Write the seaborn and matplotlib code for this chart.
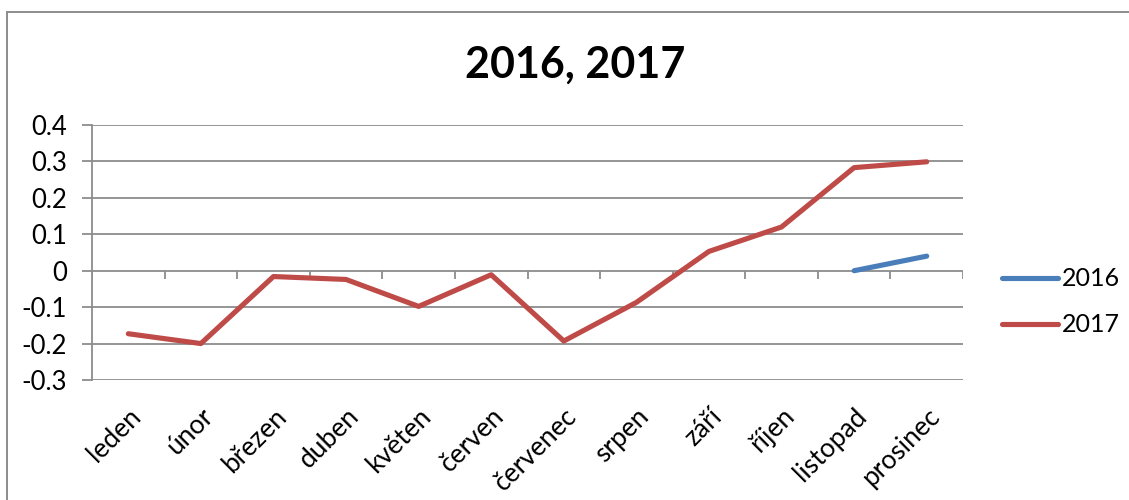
import numpy as np
import pandas as pd
import matplotlib
matplotlib.use("Agg")
import matplotlib.pyplot as plt
import seaborn as sns
from matplotlib.patches import Rectangle

months = ["leden", "únor", "březen", "duben", "květen", "červen",
          "červenec", "srpen", "září", "říjen", "listopad", "prosinec"]
values_2016 = [np.nan] * 10 + [0.0, 0.04]
values_2017 = [-0.173, -0.2, -0.016, -0.024, -0.098, -0.011,
               -0.193, -0.087, 0.053, 0.12, 0.283, 0.299]
series_names = ["2016", "2017"]
yticks = [-0.3, -0.2, -0.1, 0, 0.1, 0.2, 0.3, 0.4]
ytick_labels = ["-0.3", "-0.2", "-0.1", "0", "0.1", "0.2", "0.3", "0.4"]
title = "2016, 2017"

sns.set_theme(style="white")
plt.rcParams["font.family"] = ["Lato", "DejaVu Sans"]
plt.rcParams["text.color"] = "black"

idx = np.arange(len(months))
df = pd.DataFrame({
    "month": np.concatenate([idx, idx]),
    "value": values_2016 + values_2017,
    "year": [series_names[0]] * len(months) + [series_names[1]] * len(months),
}).dropna()

fig = plt.figure(figsize=(11.29, 5.0), dpi=100)
ax = fig.add_axes([92 / 1129, 1 - 380 / 500, (963 - 92) / 1129, (380 - 125) / 500])

grid_color = "#8c8c8c"
for y in yticks:
    ax.axhline(y, color=grid_color, lw=1.3, zorder=1)

sns.lineplot(data=df, x="month", y="value", hue="year",
             palette={"2016": "#4a7ebb", "2017": "#be4b48"},
             lw=3.7, ax=ax, legend=True, zorder=3,
             solid_capstyle="round")

ax.set_xlim(-0.5, len(months) - 0.5)
ax.set_ylim(yticks[0], yticks[-1])
ax.set_yticks(yticks)
ax.set_yticklabels(ytick_labels, fontsize=18.5, color="black")
ax.tick_params(axis="y", length=7, width=1.3, color=grid_color, pad=11, left=True)

# category boundary tick marks along the zero line
bounds = np.arange(len(months) + 1) - 0.5
ax.vlines(bounds, -0.022, 0, color=grid_color, lw=1.3, zorder=1)

ax.set_xticks(idx)
ax.set_xticklabels(months, rotation=45, ha="right", va="top",
                   rotation_mode="anchor", fontsize=19, color="black")
ax.tick_params(axis="x", length=0, pad=17)
ax.set_xlabel("")
ax.set_ylabel("")

for s in ["top", "right", "bottom"]:
    ax.spines[s].set_visible(False)
ax.spines["left"].set_color(grid_color)
ax.spines["left"].set_linewidth(1.3)

handles, labels = ax.get_legend_handles_labels()
for h in handles:
    h.set_solid_capstyle("round")
ax.legend(handles, labels, loc="center left", bbox_to_anchor=(1002 / 1129, 1 - 302 / 500),
          bbox_transform=fig.transFigure, frameon=False, fontsize=18,
          handlelength=2.24, handletextpad=0.15, labelspacing=0.92,
          borderaxespad=0, borderpad=0)

fig.text(575 / 1129, 1 - 65 / 500, title, ha="center", va="center",
         fontsize=31, fontweight="bold", color="black")

# chart-area frame (only its top and left edges fall inside the image)
fig.patches.append(Rectangle((7 / 1129, -0.05), 1.1, 1.05 - 12 / 500,
                             transform=fig.transFigure, fill=False,
                             edgecolor="#8c8c8c", lw=1.4))

fig.savefig("out.png", dpi=100)
